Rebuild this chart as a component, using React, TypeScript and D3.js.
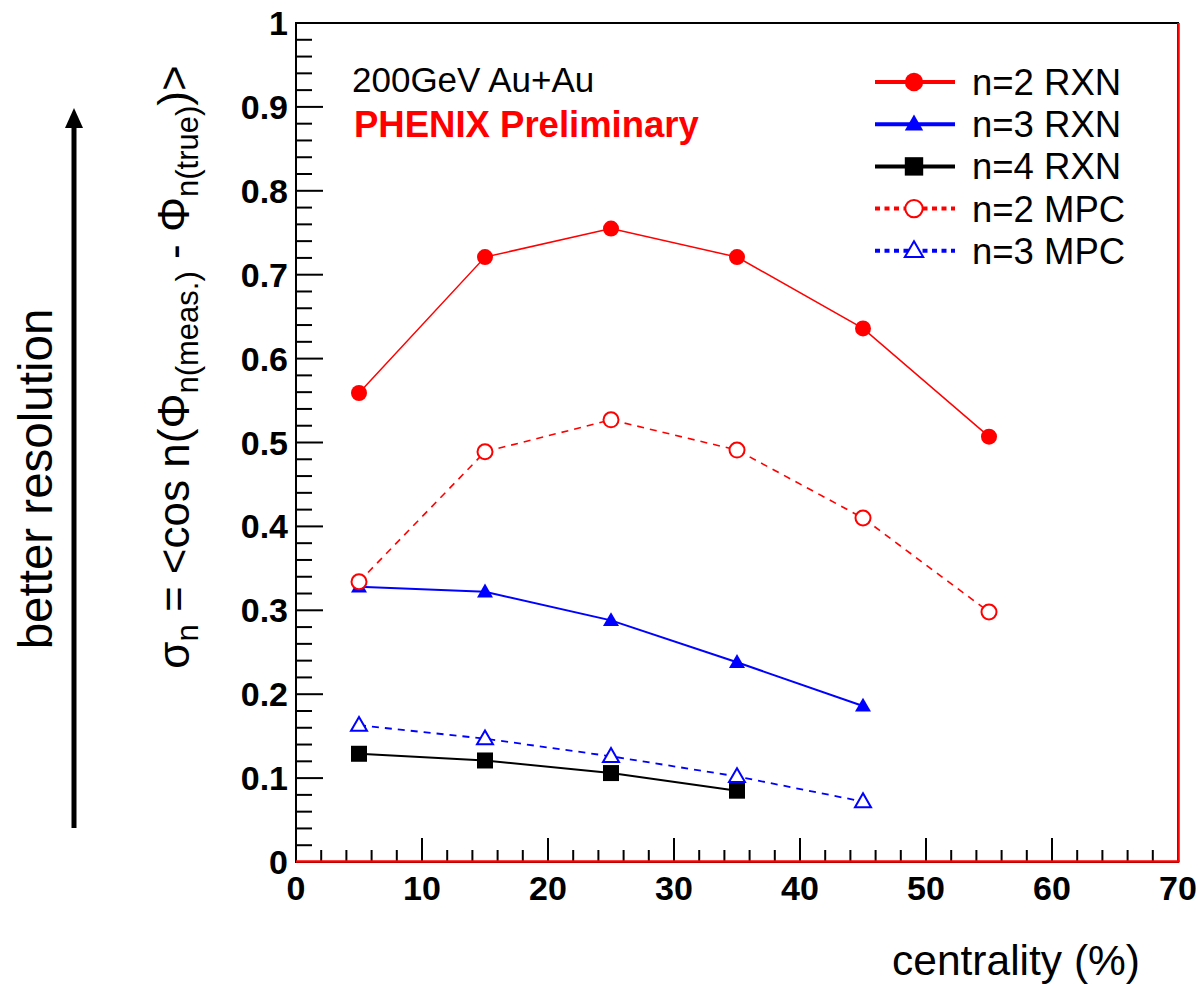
import React from "react";
import * as d3 from "d3";

const centrality = [5, 15, 25, 35, 45, 55];
const n2RXN = [0.559, 0.721, 0.755, 0.721, 0.636, 0.507];
const n3RXN = [0.328, 0.322, 0.288, 0.238, 0.186];
const n4RXN = [0.129, 0.121, 0.106, 0.085];
const n2MPC = [0.334, 0.489, 0.527, 0.491, 0.41, 0.298];
const n3MPC = [0.163, 0.147, 0.126, 0.102, 0.072];

const xTicks = [0, 10, 20, 30, 40, 50, 60, 70];
const yTicks = [0, 0.1, 0.2, 0.3, 0.4, 0.5, 0.6, 0.7, 0.8, 0.9, 1];
const yTickLabels = ["0", "0.1", "0.2", "0.3", "0.4", "0.5", "0.6", "0.7", "0.8", "0.9", "1"];

type Marker = "circle" | "triangle" | "square";
interface Series {
  name: string;
  values: number[];
  color: string;
  marker: Marker;
  filled: boolean;
  dashed: boolean;
  width: number;
}

const series: Series[] = [
  { name: "n=2 RXN", values: n2RXN, color: "#ff0000", marker: "circle", filled: true, dashed: false, width: 1.5 },
  { name: "n=3 RXN", values: n3RXN, color: "#0000ff", marker: "triangle", filled: true, dashed: false, width: 2 },
  { name: "n=4 RXN", values: n4RXN, color: "#000000", marker: "square", filled: true, dashed: false, width: 2 },
  { name: "n=2 MPC", values: n2MPC, color: "#ff0000", marker: "circle", filled: false, dashed: true, width: 1.6 },
  { name: "n=3 MPC", values: n3MPC, color: "#0000ff", marker: "triangle", filled: false, dashed: true, width: 1.8 },
];

const FONT = "'Liberation Sans', Arial, Helvetica, sans-serif";

function MarkerShape({ m, x, y, color, filled, scale = 1 }: { m: Marker; x: number; y: number; color: string; filled: boolean; scale?: number }) {
  const fill = filled ? color : "#ffffff";
  const sw = filled ? 0 : 2;
  if (m === "circle") {
    const r = 8 * scale;
    return <circle cx={x} cy={y} r={filled ? r : r - 0.5} fill={fill} stroke={color} strokeWidth={sw} />;
  }
  if (m === "square") {
    const s = 16 * scale;
    return <rect x={x - s / 2} y={y - s / 2} width={s} height={s} fill={fill} />;
  }
  const side = 16 * scale;
  const path = d3.symbol().type(d3.symbolTriangle).size((Math.sqrt(3) / 4) * side * side)();
  return <path d={path || ""} transform={`translate(${x},${y + 1})`} fill={fill} stroke={color} strokeWidth={sw} />;
}

export default function App() {
  const W = 1202;
  const H = 984;
  const left = 296;
  const right = 1178;
  const top = 23;
  const bottom = 862;

  const x = d3.scaleLinear().domain([0, 70]).range([left, right]);
  const y = d3.scaleLinear().domain([0, 1]).range([bottom, top]);

  const xMinor = d3.range(0, 70.001, 2);
  const yMinor = d3.range(0, 1.0001, 0.02);

  const line = d3
    .line<[number, number]>()
    .x((d) => x(d[0]))
    .y((d) => y(d[1]));

  const legendY0 = 82;
  const legendDy = 42.2;

  return (
    <svg width={W} height={H} style={{ position: "absolute", left: 0, top: 0, background: "#fff" }} fontFamily={FONT}>
      <rect x={0} y={0} width={W} height={H} fill="#fff" />

      {/* y ticks */}
      {yMinor.map((v, i) => {
        const major = i % 5 === 0;
        if (i === 0 || i === yMinor.length - 1) return null;
        return (
          <line key={"ym" + i} x1={left} x2={left + (major ? 27 : 16)} y1={y(v)} y2={y(v)} stroke="#000" strokeWidth={2} />
        );
      })}
      {yTicks.map((v, i) => (
        <text key={"yl" + i} x={left - 8} y={y(v) + 12} textAnchor="end" fontSize={34} fontWeight="bold" fill="#000">
          {yTickLabels[i]}
        </text>
      ))}

      {/* x ticks */}
      {xMinor.map((v, i) => {
        const major = i % 5 === 0;
        if (v === 0 || v === 70) return null;
        return (
          <line key={"xm" + i} x1={x(v)} x2={x(v)} y1={bottom} y2={bottom - (major ? 24 : 12)} stroke="#000" strokeWidth={2} />
        );
      })}
      {xTicks.map((v, i) => (
        <text key={"xl" + i} x={x(v)} y={bottom + 38} textAnchor="middle" fontSize={34} fontWeight="bold" fill="#000">
          {v}
        </text>
      ))}

      {/* frame */}
      <rect x={left} y={top} width={right - left} height={bottom - top} fill="none" stroke="#000" strokeWidth={2} />
      <line x1={left} x2={right + 1.5} y1={bottom - 0.5} y2={bottom - 0.5} stroke="#ff0000" strokeWidth={2.5} />
      <line x1={right + 0.5} x2={right + 0.5} y1={top} y2={bottom} stroke="#ff0000" strokeWidth={2.5} />

      {/* data lines */}
      {series.map((s, si) => {
        const pts: [number, number][] = s.values.map((v, i) => [centrality[i], v]);
        return (
          <path
            key={"ln" + si}
            d={line(pts) || ""}
            fill="none"
            stroke={s.color}
            strokeWidth={s.width}
            strokeDasharray={s.dashed ? "7,6" : undefined}
          />
        );
      })}
      {/* data markers */}
      {series.map((s, si) =>
        s.values.map((v, i) => (
          <MarkerShape key={"mk" + si + "-" + i} m={s.marker} x={x(centrality[i])} y={y(v)} color={s.color} filled={s.filled} />
        ))
      )}

      {/* annotation text */}
      <text x={352} y={92} fontSize={35} fill="#000">200GeV Au+Au</text>
      <text x={354} y={137} fontSize={36.5} fontWeight="bold" fill="#ff0000">PHENIX Preliminary</text>

      {/* legend */}
      {series.map((s, i) => {
        const ly = legendY0 + i * legendDy;
        return (
          <g key={"lg" + i}>
            <line
              x1={875}
              x2={955}
              y1={ly}
              y2={ly}
              stroke={s.color}
              strokeWidth={4}
              strokeDasharray={s.dashed ? "5,4.5" : undefined}
            />
            <MarkerShape m={s.marker} x={914} y={ly} color={s.color} filled={s.filled} scale={1.15} />
            <text x={972} y={ly + 13} fontSize={36.5} fill="#000">
              {s.name}
            </text>
          </g>
        );
      })}

      {/* y axis title */}
      <text transform="translate(189,367) rotate(-90)" textAnchor="middle" fontSize={44} fill="#000">
        <tspan>σ</tspan>
        <tspan fontSize={31} dy={9}>n</tspan>
        <tspan dy={-9}> = &lt;cos n(Φ</tspan>
        <tspan fontSize={31} dy={9}>n(meas.)</tspan>
        <tspan dy={-9}> - Φ</tspan>
        <tspan fontSize={31} dy={9}>n(true)</tspan>
        <tspan dy={-9}>)&gt;</tspan>
      </text>

      {/* better resolution arrow */}
      <line x1={74} x2={74} y1={828} y2={125} stroke="#000" strokeWidth={5} />
      <path d="M 65 128 L 74 108 L 83 128 Z" fill="#000" />
      <text transform="translate(52,479) rotate(-90)" textAnchor="middle" fontSize={47.5} fill="#000">
        better resolution
      </text>

      {/* x axis title */}
      <text x={1140} y={975} textAnchor="end" fontSize={42.5} fill="#000">centrality (%)</text>
    </svg>
  );
}
